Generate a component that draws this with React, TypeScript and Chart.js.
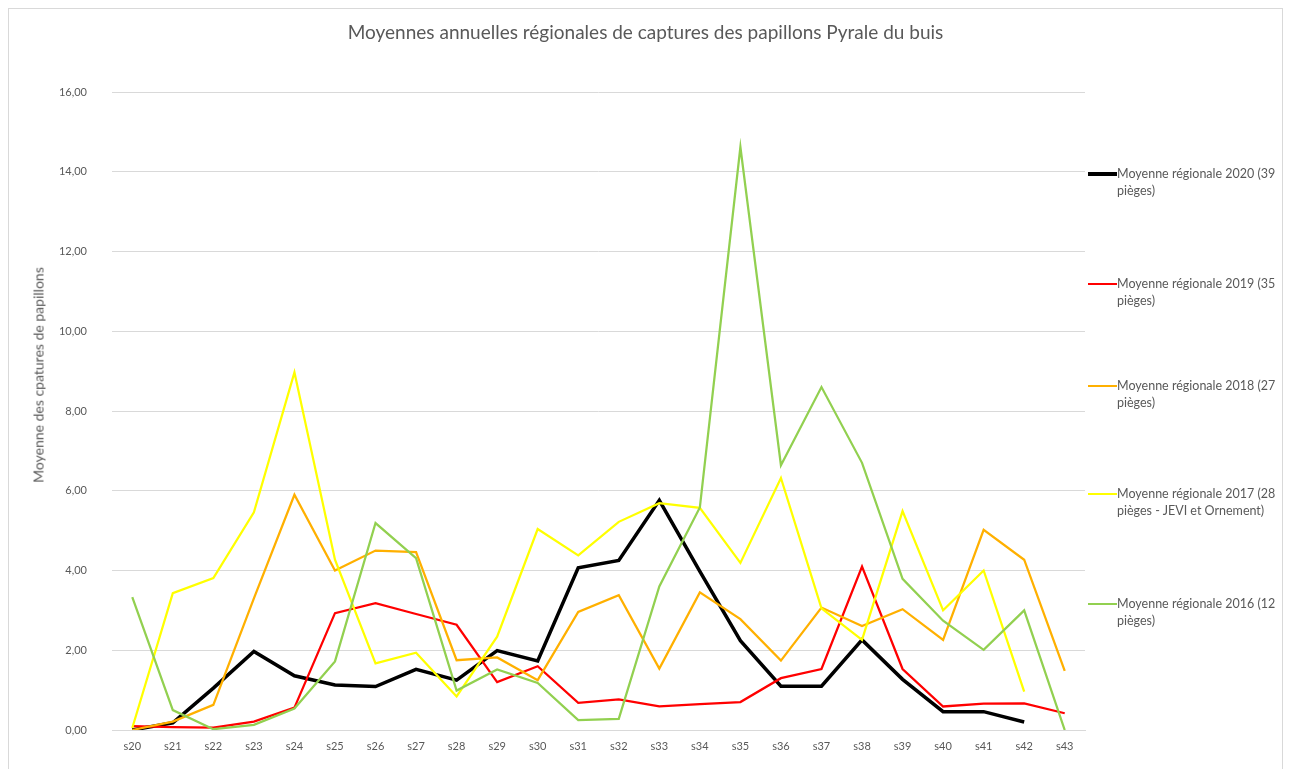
import React, { useEffect, useRef } from "react";
import { Chart, registerables } from "chart.js";

Chart.register(...registerables);

const weeks = ["s20","s21","s22","s23","s24","s25","s26","s27","s28","s29","s30","s31","s32","s33","s34","s35","s36","s37","s38","s39","s40","s41","s42","s43"];

const moy2020 = [0, 0.18, 1.05, 1.97, 1.36, 1.13, 1.09, 1.52, 1.25, 1.99, 1.73, 4.07, 4.25, 5.76, 3.98, 2.24, 1.1, 1.1, 2.26, 1.27, 0.46, 0.46, 0.2, null];
const moy2019 = [0.1, 0.07, 0.06, 0.21, 0.56, 2.93, 3.18, 2.91, 2.64, 1.2, 1.6, 0.68, 0.77, 0.59, 0.65, 0.7, 1.3, 1.53, 4.1, 1.53, 0.59, 0.66, 0.67, 0.42];
const moy2018 = [0, 0.21, 0.63, 3.3, 5.9, 4.0, 4.5, 4.46, 1.75, 1.82, 1.25, 2.96, 3.38, 1.54, 3.45, 2.78, 1.74, 3.07, 2.61, 3.03, 2.26, 5.02, 4.27, 1.48];
const moy2017 = [0.05, 3.43, 3.81, 5.46, 8.97, 4.27, 1.67, 1.94, 0.84, 2.34, 5.04, 4.38, 5.22, 5.69, 5.57, 4.19, 6.32, 3.05, 2.26, 5.49, 3.0, 4.0, 0.96, null];
const moy2016 = [3.33, 0.5, 0.02, 0.13, 0.54, 1.72, 5.19, 4.31, 0.99, 1.52, 1.18, 0.25, 0.28, 3.6, 5.58, 14.62, 6.64, 8.6, 6.7, 3.79, 2.74, 2.01, 3.0, 0];

const seriesNames = [
  ["Moyenne régionale 2020 (39", "pièges)"],
  ["Moyenne régionale 2019 (35", "pièges)"],
  ["Moyenne régionale 2018 (27", "pièges)"],
  ["Moyenne régionale 2017 (28", "pièges - JEVI et Ornement)"],
  ["Moyenne régionale 2016 (12", "pièges)"],
];
const seriesColors = ["#000000", "#ff0000", "#ffb000", "#ffff00", "#92d050"];
const seriesWidths = [3.5, 2.25, 2.25, 2.25, 2.25];
const seriesData = [moy2020, moy2019, moy2018, moy2017, moy2016];

const titleText = "Moyennes annuelles régionales de captures des papillons Pyrale du buis";
const yTitleText = "Moyenne des cpatures de papillons";

const FONT = "Lato, 'Open Sans', sans-serif";
const GRAY = "#595959";
const legendTops = [164, 274, 376, 484, 594];

export default function App() {
  const ref = useRef<HTMLCanvasElement | null>(null);

  useEffect(() => {
    if (!ref.current) return;
    const chart = new Chart(ref.current, {
      type: "line",
      data: {
        labels: weeks,
        datasets: seriesData.map((d, i) => ({
          label: seriesNames[i].join(" "),
          data: d,
          borderColor: seriesColors[i],
          backgroundColor: seriesColors[i],
          borderWidth: seriesWidths[i],
          pointRadius: 0,
          tension: 0,
          fill: false,
          spanGaps: false,
          order: 4 - i,
        })),
      },
      options: {
        responsive: false,
        animation: false,
        layout: { padding: { left: 0, right: 197, top: 83, bottom: 0 } },
        plugins: {
          legend: { display: false },
          title: { display: false },
          tooltip: { enabled: false },
        },
        scales: {
          x: {
            offset: true,
            grid: { display: false, drawTicks: false },
            border: { display: true, color: "#d9d9d9", width: 1 },
            ticks: {
              color: GRAY,
              font: { family: FONT, size: 11 },
              padding: 10,
              maxRotation: 0,
              autoSkip: false,
            },
            afterFit: (s: any) => { s.height = 49; },
          },
          y: {
            min: 0,
            max: 16,
            grid: { color: "#d9d9d9", lineWidth: 1, drawTicks: false },
            border: { display: false },
            ticks: {
              stepSize: 2,
              color: GRAY,
              font: { family: FONT, size: 11 },
              padding: 25,
              callback: (v: any) => Number(v).toFixed(2).replace(".", ","),
            },
            afterFit: (s: any) => { s.width = 103; },
          },
        },
      },
    });
    return () => chart.destroy();
  }, []);

  return (
    <div style={{ position: "relative", width: 1273, height: 770, border: "1px solid #d9d9d9", fontFamily: FONT }}>
      <canvas ref={ref} width={1273} height={770} style={{ position: "absolute", left: 0, top: 0 }} />
      <div style={{ position: "absolute", left: 0, width: 1273, top: 11, textAlign: "center", fontSize: 19, color: GRAY }}>
        {titleText}
      </div>
      <div style={{ position: "absolute", left: 29, top: 366, width: 0, height: 0 }}>
        <div style={{ position: "absolute", transform: "translate(-50%, -50%) rotate(-90deg)", whiteSpace: "nowrap", fontSize: 14, color: GRAY }}>
          {yTitleText}
        </div>
      </div>
      {seriesNames.map((n, i) => (
        <div key={i} style={{ position: "absolute", left: 1079, top: legendTops[i] - 8, width: 200 }}>
          <div style={{ position: "absolute", left: 0, top: 9 - seriesWidths[i] / 2, width: 29, height: seriesWidths[i], background: seriesColors[i] }} />
          <div style={{ position: "absolute", left: 29, top: 0, fontSize: 12.5, lineHeight: "17px", color: GRAY, whiteSpace: "nowrap" }}>
            {n[0]}<br />{n[1]}
          </div>
        </div>
      ))}
    </div>
  );
}
